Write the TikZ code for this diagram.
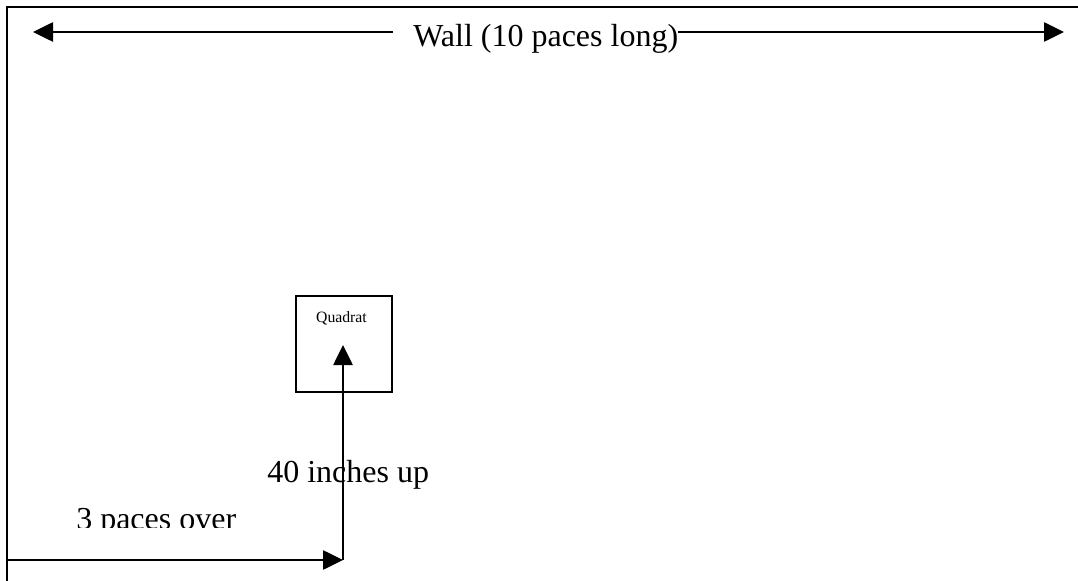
\documentclass[tikz,border=0pt]{standalone}
\usepackage{fontspec}
\setmainfont{Liberation Serif}
\usetikzlibrary{arrows.meta}
\tikzset{
  frame/.style={line width=1.5pt, line cap=rect},
  conn/.style={line width=1.1pt, -{Triangle[length=15pt,width=14.5pt]}},
  plain/.style={line width=1.1pt},
  bigtext/.style={inner sep=0pt, font=\fontsize{24pt}{28pt}\selectfont},
  smalltext/.style={inner sep=0pt, font=\fontsize{11.8pt}{14pt}\selectfont},
  quadbox/.style={draw, line width=1.3pt, minimum size=72pt, inner sep=0pt}
}
\begin{document}
\begin{tikzpicture}[x=0.75pt, y=-0.75pt]
\useasboundingbox (0,0) rectangle (1078,581);
% frame
\draw[frame] (7,581) -- (7,7) -- (1078,7);
% wall label and arrows
\node[bigtext, anchor=base west] (wall) at (413,47) {Wall (10 paces long)};
\coordinate (wallLs) at (393,32);
\coordinate (wallL) at (33,32);
\coordinate (wallRs) at (678,32);
\coordinate (wallR) at (1064,32);
\draw[conn] (wallLs) -- (wallL);
\draw[conn] (wallRs) -- (wallR);
% quadrat
\node[quadbox] (quad) at (344,344) {};
\node[smalltext, anchor=base] (qlabel) at (341.5,322) {Quadrat};
% paths
\coordinate (origin) at (7,560);
\coordinate (corner) at (343,560);
\coordinate (qtip) at (343,345);
\draw[conn] (origin) -- (corner);
\draw[conn] (corner) -- (qtip);
% labels
\node[bigtext, anchor=base west] (up) at (267,482) {40 inches up};
\begin{scope}
\clip (0,0) rectangle (1078,527);
\node[bigtext, anchor=base west] (over) at (76,529) {3 paces over};
\end{scope}
\end{tikzpicture}
\end{document}
